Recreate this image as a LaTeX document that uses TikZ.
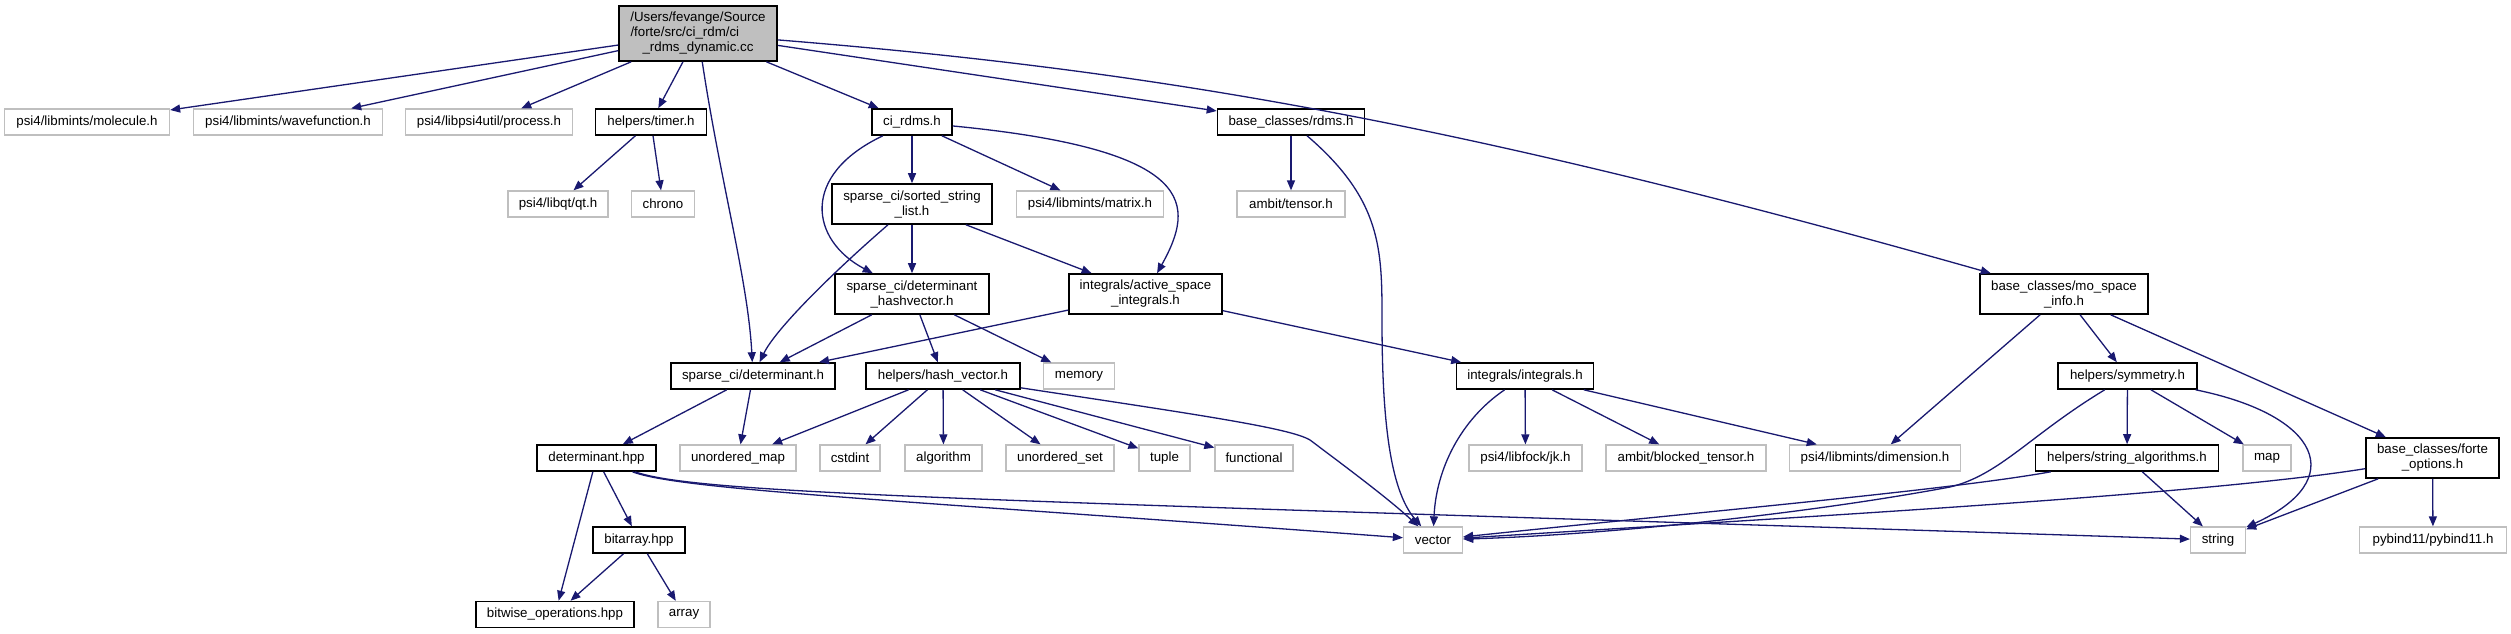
\documentclass[tikz,border=0pt]{standalone}
\usepackage{fontspec}
\setmainfont{Liberation Sans}
\usetikzlibrary{arrows.meta}
\definecolor{mblue}{RGB}{25,25,112}
\definecolor{extgray}{RGB}{191,191,191}
\begin{document}
\begin{tikzpicture}[x=1pt,y=-1pt,
  box/.style={rectangle,inner sep=0pt,minimum height=26pt,align=center,
    font=\fontsize{13.3}{15}\selectfont,fill=white},
  doc/.style={box,draw=black,line width=1.6pt},
  ext/.style={box,draw=extgray,line width=1.3pt},
  mainbox/.style={box,draw=black,line width=1.6pt,fill=extgray},
  e/.style={draw=mblue,line width=1.3pt,-{Triangle[length=10pt,width=8pt]}}]
\useasboundingbox[fill=white] (0,0) rectangle (2511,633);

% nodes
\node[mainbox,minimum width=158pt,minimum height=55pt] (main) at (698,33.5) {/Users/fevange/Source\\\makebox[135pt][l]{/forte/src/ci\_rdm/ci}\\\_rdms\_dynamic.cc};
\node[ext,minimum width=165pt] (mol) at (87,122) {psi4/libmints/molecule.h};
\node[ext,minimum width=189pt] (wf) at (288,122) {psi4/libmints/wavefunction.h};
\node[ext,minimum width=167pt] (proc) at (489,122) {psi4/libpsi4util/process.h};
\node[doc,minimum width=111pt] (timer) at (651,122) {helpers/timer.h};
\node[doc,minimum width=80pt] (cirdms) at (912,122) {ci\_rdms.h};
\node[doc,minimum width=147pt] (rdms) at (1291,122) {base\_classes/rdms.h};
\node[ext,minimum width=100pt] (qt) at (558,204) {psi4/libqt/qt.h};
\node[ext,minimum width=63pt] (chrono) at (663,204) {chrono};
\node[doc,minimum width=160pt,minimum height=40pt] (ssl) at (912,204) {sparse\_ci/sorted\_string\\\_list.h};
\node[ext,minimum width=147pt] (matrix) at (1090,204) {psi4/libmints/matrix.h};
\node[ext,minimum width=108pt] (tensor) at (1291,204) {ambit/tensor.h};
\node[doc,minimum width=154pt,minimum height=40pt] (dhv) at (912,294) {sparse\_ci/determinant\\\_hashvector.h};
\node[doc,minimum width=153pt,minimum height=40pt] (asi) at (1145.5,294) {integrals/active\_space\\\_integrals.h};
\node[doc,minimum width=168pt,minimum height=40pt] (mosi) at (2064,294) {base\_classes/mo\_space\\\_info.h};
\node[doc,minimum width=164pt] (deth) at (753,376) {sparse\_ci/determinant.h};
\node[doc,minimum width=154pt] (hvec) at (943,376) {helpers/hash\_vector.h};
\node[ext,minimum width=71pt] (memory) at (1079,376) {memory};
\node[doc,minimum width=137pt] (ints) at (1525,376) {integrals/integrals.h};
\node[doc,minimum width=139pt] (sym) at (2127.5,376) {helpers/symmetry.h};
\node[doc,minimum width=119pt] (dethpp) at (596.5,458) {determinant.hpp};
\node[ext,minimum width=116pt] (umap) at (738,458) {unordered\_map};
\node[ext,minimum width=60pt] (cstdint) at (850,458) {cstdint};
\node[ext,minimum width=77pt] (algorithm) at (943.5,458) {algorithm};
\node[ext,minimum width=108pt] (uset) at (1060,458) {unordered\_set};
\node[ext,minimum width=51pt] (tuple) at (1164.5,458) {tuple};
\node[ext,minimum width=78pt] (functional) at (1254,458) {functional};
\node[ext,minimum width=113pt] (jk) at (1525.5,458) {psi4/libfock/jk.h};
\node[ext,minimum width=160pt] (btensor) at (1686,458) {ambit/blocked\_tensor.h};
\node[ext,minimum width=171pt] (dim) at (1875,458) {psi4/libmints/dimension.h};
\node[doc,minimum width=183pt] (stralg) at (2127,458) {helpers/string\_algorithms.h};
\node[ext,minimum width=48pt] (map) at (2267,458) {map};
\node[doc,minimum width=133pt,minimum height=40pt] (forte) at (2432.5,458) {base\_classes/forte\\\_options.h};
\node[doc,minimum width=92pt] (bitarray) at (639,540) {bitarray.hpp};
\node[ext,minimum width=59pt] (vector) at (1433,540) {vector};
\node[ext,minimum width=55pt] (string) at (2218,540) {string};
\node[ext,minimum width=147pt] (pybind) at (2433,540) {pybind11/pybind11.h};
\node[doc,minimum width=158pt] (bitwise) at (555,614.5) {bitwise\_operations.hpp};
\node[ext,minimum width=52pt] (array) at (684,614.5) {array};

% edges from main
\draw[e] (main) -- (mol);
\draw[e] (main) -- (wf);
\draw[e] (main) -- (proc);
\draw[e] (main) -- (timer);
\draw[e] (main) .. controls (720,180) and (748,280) .. (deth);
\draw[e] (main) -- (cirdms);
\draw[e] (main) -- (rdms);
\draw[e] (main) .. controls (1150,70) and (1450,120) .. (mosi);

% timer
\draw[e] (timer) -- (qt);
\draw[e] (timer) -- (chrono);

% ci_rdms
\draw[e] (cirdms) -- (ssl);
\draw[e] (cirdms) -- (matrix);
\draw[e] (cirdms) .. controls (800,175) and (810,240) .. (dhv);
\draw[e] (cirdms) .. controls (1200,150) and (1195,205) .. (asi);

% sorted string list
\draw[e] (ssl) -- (dhv);
\draw[e] (ssl) -- (asi);
\draw[e] (ssl) .. controls (830,275) and (775,330) .. (deth);

% determinant hashvector
\draw[e] (dhv) -- (deth);
\draw[e] (dhv) -- (hvec);
\draw[e] (dhv) -- (memory);

% active space integrals
\draw[e] (asi) -- (deth);
\draw[e] (asi) -- (ints);

% rdms
\draw[e] (rdms) -- (tensor);
\draw[e] (rdms) .. controls (1382,200) and (1382,250) .. (1382,320) .. controls (1382,420) and (1390,490) .. (vector);

% determinant.h
\draw[e] (deth) -- (dethpp);
\draw[e] (deth) -- (umap);

% hash_vector
\draw[e] (hvec) -- (umap);
\draw[e] (hvec) -- (cstdint);
\draw[e] (hvec) -- (algorithm);
\draw[e] (hvec) -- (uset);
\draw[e] (hvec) -- (tuple);
\draw[e] (hvec) -- (functional);
\draw[e] (hvec) .. controls (1200,415) and (1290,428) .. (1310,440) .. controls (1350,470) and (1390,500) .. (vector);

% determinant.hpp
\draw[e] (dethpp) -- (bitwise);
\draw[e] (dethpp) -- (bitarray);
\draw[e] (dethpp) .. controls (680,490) and (900,500) .. (vector);
\draw[e] (dethpp) .. controls (700,495) and (1000,500) .. (string);

% bitarray
\draw[e] (bitarray) -- (bitwise);
\draw[e] (bitarray) -- (array);

% integrals
\draw[e] (ints) .. controls (1460,420) and (1436,470) .. (vector);
\draw[e] (ints) -- (jk);
\draw[e] (ints) -- (btensor);
\draw[e] (ints) -- (dim);

% mo_space_info
\draw[e] (mosi) -- (dim);
\draw[e] (mosi) -- (sym);
\draw[e] (mosi) -- (forte);

% symmetry
\draw[e] (sym) .. controls (2030,435) and (2000,475) .. (1950,487) .. controls (1800,515) and (1600,535) .. (vector);
\draw[e] (sym) -- (stralg);
\draw[e] (sym) -- (map);
\draw[e] (sym) .. controls (2320,415) and (2350,480) .. (string);

% string algorithms
\draw[e] (stralg) .. controls (1950,490) and (1700,512) .. (vector);
\draw[e] (stralg) -- (string);

% forte options
\draw[e] (forte) .. controls (2200,495) and (1800,517) .. (vector);
\draw[e] (forte) -- (string);
\draw[e] (forte) -- (pybind);
\end{tikzpicture}
\end{document}
